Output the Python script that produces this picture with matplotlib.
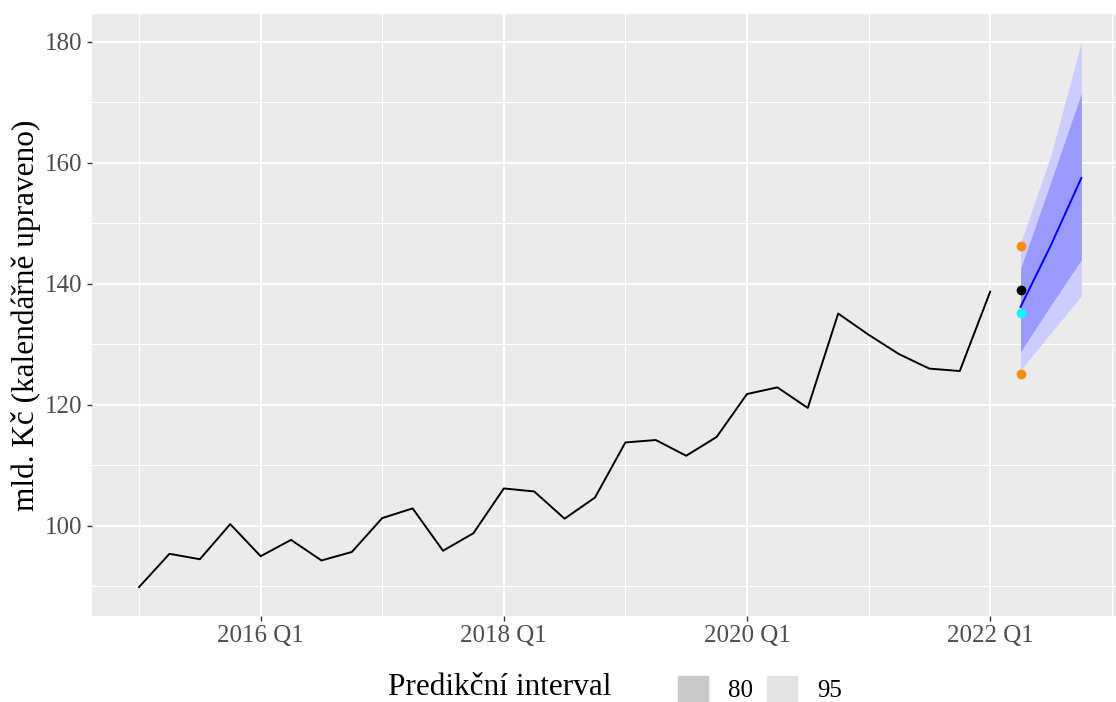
import numpy as np
import matplotlib
matplotlib.use("Agg")
import matplotlib.pyplot as plt
from matplotlib.patches import Patch

# observed quarterly values, 2015 Q1 .. 2022 Q1
obs_start = 2015.0
observed = [89.9, 95.4, 94.5, 100.3, 95.0, 97.7, 94.3, 95.7,
            101.3, 102.9, 95.9, 98.8, 106.2, 105.7, 101.2, 104.7,
            113.8, 114.2, 111.6, 114.7, 121.8, 122.9, 119.5, 135.1,
            131.6, 128.4, 126.0, 125.6, 138.7]

# forecast 2022 Q2 .. 2022 Q4
fc_start = 2022.25
fc_mean = [136.2, 146.4, 157.5]
fc_lo80 = [128.8, 136.5, 144.0]
fc_hi80 = [142.5, 156.9, 171.5]
fc_lo95 = [125.8, 131.9, 138.0]
fc_hi95 = [146.7, 161.3, 180.0]

# single points at 2022 Q2
pt_x = 2022.25
pt_orange = [146.2, 125.1]
pt_black = 139.0
pt_cyan = 135.2

xticks = [2016, 2018, 2020, 2022]
xtick_labels = ["2016 Q1", "2018 Q1", "2020 Q1", "2022 Q1"]
yticks = [100, 120, 140, 160, 180]
legend_levels = ["80", "95"]

plt.rcParams["font.family"] = ["Liberation Serif", "DejaVu Serif"]

x_obs = obs_start + 0.25 * np.arange(len(observed))
x_fc = fc_start + 0.25 * np.arange(len(fc_mean))

fig = plt.figure(figsize=(11.16, 7.02), dpi=100)
W, H = 1116, 702
ax = fig.add_axes([92 / W, (H - 615.7) / H, (1116 - 92) / W, (615.7 - 14) / H])
ax.set_facecolor("#EBEBEB")
for s in ax.spines.values():
    s.set_visible(False)

ax.set_xlim(2014.613, 2023.035)
ax.set_ylim(85.17, 184.6)
ax.set_xticks(xticks)
ax.set_xticklabels(xtick_labels)
ax.set_xticks([2015, 2017, 2019, 2021, 2023], minor=True)
ax.set_yticks(yticks)
ax.set_yticks([90, 110, 130, 150, 170], minor=True)
ax.grid(which="major", color="white", lw=1.5)
ax.grid(which="minor", color="white", lw=0.75)
ax.set_axisbelow(True)
ax.tick_params(which="major", length=3.6, width=1.0, color="#333333",
               labelcolor="#4D4D4D", labelsize=18, pad=3)
ax.tick_params(which="minor", length=0)

ax.fill_between(x_fc, fc_lo95, fc_hi95, color="#CCCCFF", lw=0)
ax.fill_between(x_fc, fc_lo80, fc_hi80, color="#9999FF", lw=0)
ax.plot(x_obs, observed, color="black", lw=1.4)
ax.plot(x_fc, fc_mean, color="#0000FF", lw=1.4)
ax.plot([pt_x] * 2, pt_orange, "o", color="#FF8C00", ms=7, mec="none")
ax.plot(pt_x, pt_black, "o", color="black", ms=7, mec="none")
ax.plot(pt_x, pt_cyan, "o", color="#00FFFF", ms=7, mec="none")

ax.set_ylabel("mld. Kč (kalendářně upraveno)", fontsize=22.5)
ax.yaxis.set_label_coords(-0.0498, 0.5)

fig.text(388 / W, 1 - 695 / H, "Predikční interval", fontsize=22.5,
         ha="left", va="baseline")
handles = [Patch(color="#C9C9C9"), Patch(color="#E3E3E3")]
fig.legend(handles, legend_levels, ncol=2, frameon=False, fontsize=18,
           loc="center left", bbox_to_anchor=(678 / W, 1 - 689 / H),
           borderaxespad=0, borderpad=0,
           handlelength=1.2, handleheight=1.2, handletextpad=0.8,
           columnspacing=0.55)

fig.savefig("out.png", dpi=100)
